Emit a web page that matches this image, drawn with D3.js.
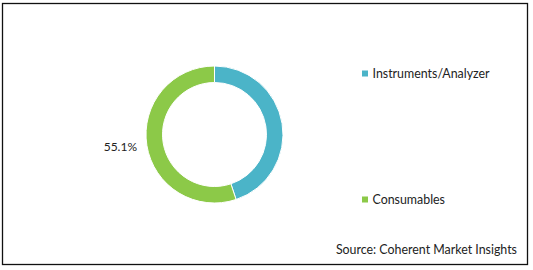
<!DOCTYPE html>
<html>
<head>
<meta charset="utf-8">
<script src="https://cdn.jsdelivr.net/npm/d3@7"></script>
<style>
  body { margin: 0; background: #fff; }
  svg text { font-family: Lato, "Open Sans", sans-serif; fill: #222; }
</style>
</head>
<body>
<svg width="533" height="270"></svg>
<script>
var categories = ["Instruments/Analyzer", "Consumables"];
var shares = [44.9, 55.1];
var shownLabels = ["", "55.1%"];
var sliceColors = ["#4bb4c8", "#8cc948"];
var sourceText = "Source: Coherent Market Insights";

var svg = d3.select("svg"),
    width = +svg.attr("width"),
    height = +svg.attr("height");

// frame
svg.append("rect")
    .attr("x", 2.5).attr("y", 3.5)
    .attr("width", 525).attr("height", 261)
    .attr("fill", "none")
    .attr("stroke", "#111")
    .attr("stroke-width", 1.3);

var cx = 214.5, cy = 134.5,
    outerR = 68.5, innerR = 52;

var pie = d3.pie().sort(null).value(function(d) { return d; });
var arc = d3.arc().innerRadius(innerR).outerRadius(outerR);
var color = d3.scaleOrdinal().domain(categories).range(sliceColors);

var g = svg.append("g")
    .attr("transform", "translate(" + cx + "," + cy + ")");

var arcs = pie(shares);

g.selectAll("path")
  .data(arcs)
  .enter().append("path")
    .attr("d", arc)
    .attr("fill", function(d, i) { return color(categories[i]); })
    .attr("stroke", "#fff")
    .attr("stroke-width", 1);

// data label (only shown for the bigger slice)
g.selectAll(".lbl")
  .data(arcs)
  .enter().append("text")
    .attr("class", "lbl")
    .attr("x", function(d) {
      var a = (d.startAngle + d.endAngle) / 2;
      return Math.sin(a) * (outerR + 10);
    })
    .attr("y", function(d) {
      var a = (d.startAngle + d.endAngle) / 2;
      return -Math.cos(a) * (outerR + 10);
    })
    .attr("dy", "0.35em")
    .attr("text-anchor", "end")
    .style("font-size", "12px")
    .text(function(d, i) { return shownLabels[i]; });

// legend
var legendY = d3.scalePoint().domain(categories).range([73.5, 199.5]);

var leg = svg.selectAll(".leg")
  .data(categories)
  .enter().append("g")
    .attr("class", "leg")
    .attr("transform", function(d) { return "translate(362," + legendY(d) + ")"; });

leg.append("rect")
    .attr("x", 0).attr("y", -3)
    .attr("width", 6).attr("height", 6)
    .attr("fill", function(d) { return color(d); });

leg.append("text")
    .attr("x", 10.5)
    .attr("dy", "0.36em")
    .style("font-size", "12.4px")
    .text(function(d) { return d; });

svg.append("text")
    .attr("x", 517).attr("y", 254)
    .attr("text-anchor", "end")
    .style("font-size", "12.4px")
    .text(sourceText);
</script>
</body>
</html>
